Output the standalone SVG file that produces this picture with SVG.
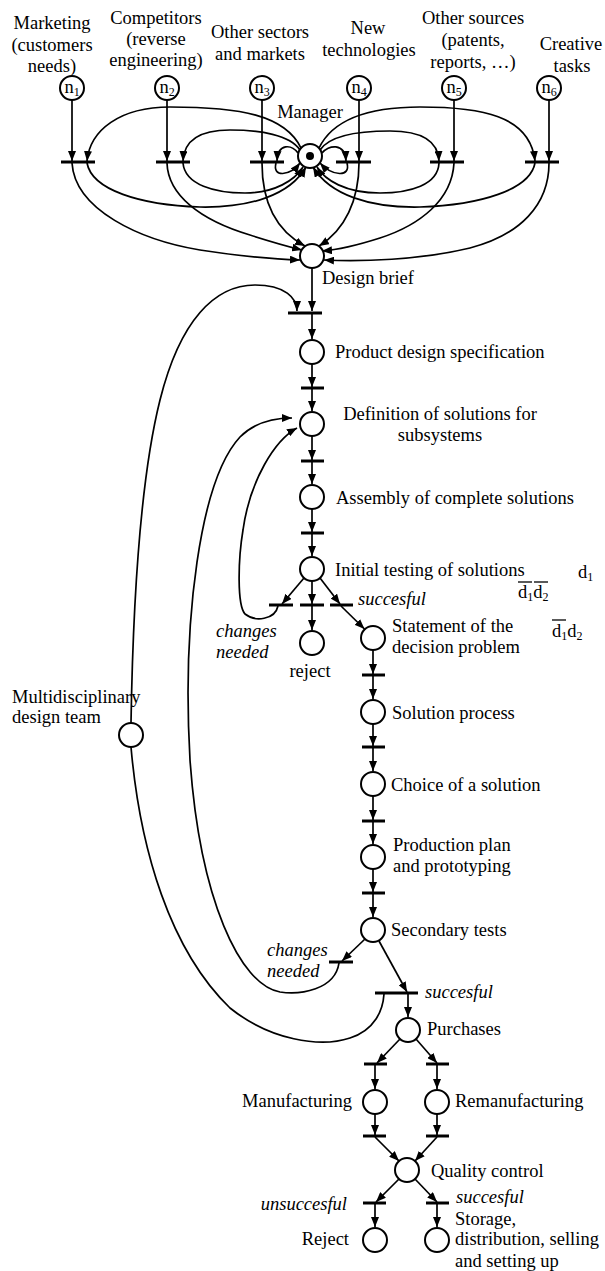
<svg xmlns="http://www.w3.org/2000/svg" width="605" height="1271" viewBox="0 0 605 1271">
<defs>
<marker id="ah" viewBox="0 0 10 8" refX="10" refY="4" markerWidth="10" markerHeight="8" orient="auto" markerUnits="userSpaceOnUse"><path d="M0,0 L10,4 L0,8 z" fill="#000"/></marker>
</defs>
<style>
.p{fill:#fff;stroke:#000;stroke-width:2}
.t{stroke:#000;stroke-width:3}
.c{fill:none;stroke:#000;stroke-width:1.7}
.a{marker-end:url(#ah)}
.ol{stroke:#000;stroke-width:1.3}
text{font-family:"Liberation Serif","Times New Roman",serif;font-size:18.5px;fill:#000}
.i{font-style:italic}
.m{text-anchor:middle}
.e{text-anchor:end}
.s{font-size:12px}
</style>
<rect width="605" height="1271" fill="#fff"/>
<g id="connectors" class="c">
<path class="a" d="M72 100V161"/>
<path class="a" d="M167 100V161"/>
<path class="a" d="M262 100V161"/>
<path class="a" d="M359 100V161"/>
<path class="a" d="M454 100V161"/>
<path class="a" d="M549 100V161"/>
<path class="a" d="M301 148C285 115 240 107 170 107C120 107 90 130 87 161"/>
<path class="a" d="M300 150C290 135 260 130 230 130C200 130 184 140 183 161"/>
<path class="a" d="M298 153C292 145 278 142 277 161"/>
<path class="a" d="M322 153C328 145 345 142 346 161"/>
<path class="a" d="M320 150C330 135 360 131 390 131C420 131 438 140 439 161"/>
<path class="a" d="M319 148C335 115 380 107 420 107C480 107 530 115 535 161"/>
<path class="a" d="M87 163C92 190 140 205 200 207C250 208 290 195 306 167"/>
<path class="a" d="M183 163C185 185 215 193 245 193C275 193 295 180 303 167"/>
<path class="a" d="M276 163C272 178 290 176 300 163"/>
<path class="a" d="M347 163C351 178 332 176 320 163"/>
<path class="a" d="M439 163C438 185 410 193 380 193C345 193 325 180 317 167"/>
<path class="a" d="M535 163C530 190 480 205 420 207C370 208 330 195 313 167"/>
<path class="a" d="M72 163C75 210 140 240 200 250C240 256 270 259 300 260"/>
<path class="a" d="M167 163C168 195 200 220 250 235C275 243 290 247 302 250"/>
<path class="a" d="M262 163C262 200 275 230 305 246"/>
<path class="a" d="M359 163C359 200 345 230 319 246"/>
<path class="a" d="M454 163C452 200 420 225 380 238C355 246 335 250 322 251"/>
<path class="a" d="M549 163C549 205 520 235 470 248C420 260 360 262 324 260"/>
<path class="a" d="M312 268V311"/>
<path class="a" d="M312 314V339"/>
<path class="a" d="M312 364V387"/>
<path class="a" d="M312 389V411"/>
<path class="a" d="M312 436V460"/>
<path class="a" d="M312 462V484"/>
<path class="a" d="M312 509V532"/>
<path class="a" d="M312 534V556"/>
<path class="a" d="M304 578L282 604"/>
<path class="a" d="M312 581V604"/>
<path class="a" d="M320 578L340 604"/>
<path class="a" d="M312 606V630"/>
<path class="a" d="M341 606L364.5 629"/>
<path class="a" d="M373 650V674"/>
<path class="a" d="M373 676V699"/>
<path class="a" d="M373 724V746"/>
<path class="a" d="M373 748V771"/>
<path class="a" d="M373 796V820"/>
<path class="a" d="M373 822V844"/>
<path class="a" d="M373 869V892"/>
<path class="a" d="M373 894V917"/>
<path class="a" d="M365 939L342 961"/>
<path class="a" d="M379 941L407 992"/>
<path class="a" d="M408 994V1017"/>
<path class="a" d="M400 1039L377 1063"/>
<path class="a" d="M416 1039L437 1063"/>
<path class="a" d="M375 1065V1089"/>
<path class="a" d="M437 1065V1089"/>
<path class="a" d="M375 1114V1135"/>
<path class="a" d="M437 1114V1135"/>
<path class="a" d="M375 1137L399 1161"/>
<path class="a" d="M437 1137L415 1161"/>
<path class="a" d="M399 1179L376 1202"/>
<path class="a" d="M415 1179L437 1202"/>
<path class="a" d="M375 1204V1227"/>
<path class="a" d="M437 1204V1227"/>
<path class="a" d="M131 723C133 600 140 480 160 400C180 320 215 285 255 285C285 285 297 298 297 311"/>
<path d="M131 747C140 850 170 950 230 1008C270 1040 320 1048 350 1038C375 1030 383 1010 384 994"/>
<path class="a" d="M339 963C335 990 300 995 280 992C240 985 200 900 190 760C182 620 200 480 240 437C255 422 275 418 292 418"/>
<path class="a" d="M278 606C275 620 255 622 245 614C237 605 238 560 243 530C250 480 275 440 297 428"/>
</g>
<g id="n1"><circle class="p" cx="72" cy="88" r="12"/><text class="m" x="72" y="93">n<tspan class="s" dy="3">1</tspan></text><text class="m" x="52" y="29">Marketing</text><text class="m" x="52" y="51">(customers</text><text class="m" x="52" y="72">needs)</text></g>
<g id="n2"><circle class="p" cx="167" cy="88" r="12"/><text class="m" x="167" y="93">n<tspan class="s" dy="3">2</tspan></text><text class="m" x="156" y="24">Competitors</text><text class="m" x="156" y="45">(reverse</text><text class="m" x="156" y="66">engineering)</text></g>
<g id="n3"><circle class="p" cx="262" cy="88" r="12"/><text class="m" x="262" y="93">n<tspan class="s" dy="3">3</tspan></text><text class="m" x="260" y="38">Other sectors</text><text class="m" x="260" y="60">and markets</text></g>
<g id="n4"><circle class="p" cx="359" cy="88" r="12"/><text class="m" x="359" y="93">n<tspan class="s" dy="3">4</tspan></text><text class="m" x="368" y="34">New</text><text class="m" x="369" y="56">technologies</text></g>
<g id="n5"><circle class="p" cx="454" cy="88" r="12"/><text class="m" x="454" y="93">n<tspan class="s" dy="3">5</tspan></text><text class="m" x="473" y="24">Other sources</text><text class="m" x="473" y="46">(patents,</text><text class="m" x="473" y="68">reports, …)</text></g>
<g id="n6"><circle class="p" cx="549" cy="88" r="12"/><text class="m" x="549" y="93">n<tspan class="s" dy="3">6</tspan></text><text class="m" x="571" y="50">Creative</text><text class="m" x="572" y="72">tasks</text></g>
<g id="manager"><circle class="p" cx="310" cy="156" r="12"/><circle cx="310" cy="156" r="4" fill="#000"/><text class="m" x="310" y="118">Manager</text></g>
<g id="t1"><line class="t" x1="61" y1="162" x2="95" y2="162"/></g>
<g id="t2"><line class="t" x1="156" y1="162" x2="190" y2="162"/></g>
<g id="t3"><line class="t" x1="250" y1="162" x2="284" y2="162"/></g>
<g id="t4"><line class="t" x1="336" y1="162" x2="371" y2="162"/></g>
<g id="t5"><line class="t" x1="430" y1="162" x2="464" y2="162"/></g>
<g id="t6"><line class="t" x1="525" y1="162" x2="559" y2="162"/></g>
<g id="design-brief"><circle class="p" cx="312" cy="256" r="12"/><text x="322" y="284">Design brief</text></g>
<g id="t-db"><line class="t" x1="288" y1="313" x2="322" y2="313"/></g>
<g id="pds"><circle class="p" cx="312" cy="352" r="12"/><text x="335" y="358">Product design specification</text></g>
<g id="t-pds"><line class="t" x1="301" y1="388" x2="324" y2="388"/></g>
<g id="definition"><circle class="p" cx="312" cy="424" r="12"/><text class="m" x="440" y="420">Definition of solutions for</text><text class="m" x="440" y="441">subsystems</text></g>
<g id="t-def"><line class="t" x1="301" y1="461" x2="324" y2="461"/></g>
<g id="assembly"><circle class="p" cx="312" cy="497" r="12"/><text x="336" y="504">Assembly of complete solutions</text></g>
<g id="t-asm"><line class="t" x1="301" y1="533" x2="324" y2="533"/></g>
<g id="initial-testing"><circle class="p" cx="312" cy="569" r="12"/><text x="335" y="576">Initial testing of solutions</text></g>
<g id="t-changes1"><line class="t" x1="269" y1="605" x2="293" y2="605"/><text class="i" x="216" y="637">changes</text><text class="i" x="216" y="658">needed</text></g>
<g id="t-reject1"><line class="t" x1="300" y1="605" x2="324" y2="605"/></g>
<g id="t-succ1"><line class="t" x1="330" y1="605" x2="353" y2="605"/><text class="i" x="358" y="605">succesful</text></g>
<g id="reject1"><circle class="p" cx="312" cy="643" r="12"/><text class="m" x="310" y="677">reject</text></g>
<g id="statement"><circle class="p" cx="373" cy="638" r="12"/><text x="392" y="632">Statement of the</text><text x="392" y="653">decision problem</text></g>
<g id="d-labels"><text x="578" y="578">d<tspan class="s" dy="3">1</tspan></text><text x="518" y="598">d<tspan class="s" dy="3">1</tspan><tspan dy="-3">d</tspan><tspan class="s" dy="3">2</tspan></text><line class="ol" x1="518" y1="582" x2="532" y2="582"/><line class="ol" x1="534" y1="582" x2="548" y2="582"/><text x="552" y="637">d<tspan class="s" dy="3">1</tspan><tspan dy="-3">d</tspan><tspan class="s" dy="3">2</tspan></text><line class="ol" x1="552" y1="620" x2="566" y2="620"/></g>
<g id="t-stm"><line class="t" x1="362" y1="675" x2="385" y2="675"/></g>
<g id="solution-process"><circle class="p" cx="373" cy="712" r="12"/><text x="392" y="719">Solution process</text></g>
<g id="t-sol"><line class="t" x1="362" y1="747" x2="385" y2="747"/></g>
<g id="choice"><circle class="p" cx="373" cy="784" r="12"/><text x="391" y="791">Choice of a solution</text></g>
<g id="t-cho"><line class="t" x1="362" y1="821" x2="385" y2="821"/></g>
<g id="production"><circle class="p" cx="373" cy="857" r="12"/><text x="393" y="851">Production plan</text><text x="393" y="872">and prototyping</text></g>
<g id="t-prd"><line class="t" x1="362" y1="893" x2="385" y2="893"/></g>
<g id="secondary"><circle class="p" cx="373" cy="930" r="12"/><text x="391" y="936">Secondary tests</text></g>
<g id="t-changes2"><line class="t" x1="329" y1="962" x2="353" y2="962"/><text class="i" x="267" y="956">changes</text><text class="i" x="267" y="977">needed</text></g>
<g id="t-succ2"><line class="t" x1="375" y1="993" x2="418" y2="993"/><text class="i" x="425" y="998">succesful</text></g>
<g id="team"><circle class="p" cx="131" cy="735" r="12"/><text x="12" y="703">Multidisciplinary</text><text x="12" y="723">design team</text></g>
<g id="purchases"><circle class="p" cx="408" cy="1030" r="12"/><text x="427" y="1035">Purchases</text></g>
<g id="t-man1"><line class="t" x1="364" y1="1064" x2="387" y2="1064"/></g>
<g id="t-rem1"><line class="t" x1="426" y1="1064" x2="449" y2="1064"/></g>
<g id="manufacturing"><circle class="p" cx="375" cy="1102" r="12"/><text class="e" x="352" y="1107">Manufacturing</text></g>
<g id="remanufacturing"><circle class="p" cx="437" cy="1102" r="12"/><text x="455" y="1107">Remanufacturing</text></g>
<g id="t-man2"><line class="t" x1="363" y1="1136" x2="386" y2="1136"/></g>
<g id="t-rem2"><line class="t" x1="426" y1="1136" x2="449" y2="1136"/></g>
<g id="quality"><circle class="p" cx="407" cy="1170" r="12"/><text x="431" y="1177">Quality control</text></g>
<g id="t-unsucc"><line class="t" x1="363" y1="1203" x2="386" y2="1203"/><text class="i e" x="347" y="1210">unsuccesful</text></g>
<g id="t-succ3"><line class="t" x1="426" y1="1203" x2="449" y2="1203"/><text class="i" x="456" y="1203">succesful</text></g>
<g id="reject2"><circle class="p" cx="375" cy="1240" r="12"/><text class="e" x="349" y="1245">Reject</text></g>
<g id="storage"><circle class="p" cx="437" cy="1240" r="12"/><text x="455" y="1225">Storage,</text><text x="455" y="1245">distribution, selling</text><text x="455" y="1267">and setting up</text></g>
</svg>
